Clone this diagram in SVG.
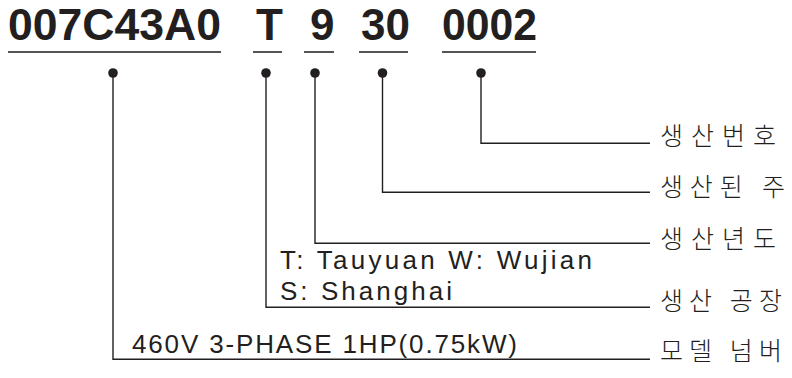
<svg xmlns="http://www.w3.org/2000/svg" width="792" height="378" viewBox="0 0 792 378">
<style>
.title{font-family:"Liberation Sans",Arial,sans-serif;font-weight:bold;font-size:44px;fill:#231f20}
.ul{stroke:#555;stroke-width:2;fill:none}
.con{stroke:#231f20;stroke-width:1.4;fill:none}
.dot{fill:#231f20}
.en{font-family:"Liberation Sans",Arial,sans-serif;font-size:26px;fill:#231f20}
.ko{font-family:"Noto Sans CJK KR","Noto Sans CJK SC",sans-serif;font-size:25px;font-weight:300;fill:#231f20}
</style>
<rect width="792" height="378" fill="#fff"/>
<g id="code-model">
<text class="title" x="8" y="40" textLength="213" lengthAdjust="spacingAndGlyphs">007C43A0</text>
<line class="ul" x1="8" y1="52" x2="221" y2="52"/>
<circle class="dot" cx="113" cy="73" r="4.8"/>
</g>
<g id="code-factory">
<text class="title" x="256" y="40">T</text>
<line class="ul" x1="253" y1="52" x2="282" y2="52"/>
<circle class="dot" cx="266" cy="73" r="4.8"/>
</g>
<g id="code-year">
<text class="title" x="310" y="40">9</text>
<line class="ul" x1="304" y1="52" x2="334" y2="52"/>
<circle class="dot" cx="315" cy="73" r="4.8"/>
</g>
<g id="code-week">
<text class="title" x="361" y="40">30</text>
<line class="ul" x1="359" y1="52" x2="408" y2="52"/>
<circle class="dot" cx="382.5" cy="73" r="4.8"/>
</g>
<g id="code-serial">
<text class="title" x="442" y="40" textLength="95" lengthAdjust="spacingAndGlyphs">0002</text>
<line class="ul" x1="442" y1="52" x2="536" y2="52"/>
<circle class="dot" cx="481" cy="73" r="4.8"/>
</g>
<g id="connectors">
<polyline class="con" points="481,73 481,143.3 650,143.3"/>
<polyline class="con" points="382.5,73 382.5,192.3 650,192.3"/>
<polyline class="con" points="315,73 315,243.3 650,243.3"/>
<polyline class="con" points="266,73 266,307.3 650,307.3"/>
<polyline class="con" points="113,73 113,359.3 650,359.3"/>
</g>
<g id="label-serial"><text class="ko" x="660" y="145" textLength="116" lengthAdjust="spacing">생산번호</text></g>
<g id="label-week"><text class="ko" x="660" y="196" textLength="125" lengthAdjust="spacing">생산된 주</text></g>
<g id="label-year"><text class="ko" x="660" y="248" textLength="116" lengthAdjust="spacing">생산년도</text></g>
<g id="label-factory">
<text class="en" x="280" y="269" textLength="312" lengthAdjust="spacing">T: Tauyuan W: Wujian</text>
<text class="en" x="280" y="300" textLength="172" lengthAdjust="spacing">S: Shanghai</text>
<text class="ko" x="660" y="310" textLength="122" lengthAdjust="spacing">생산 공장</text>
</g>
<g id="label-model">
<text class="en" x="132" y="353" textLength="385" lengthAdjust="spacing">460V 3-PHASE 1HP(0.75kW)</text>
<text class="ko" x="660" y="360" textLength="122" lengthAdjust="spacing">모델 넘버</text>
</g>
</svg>
